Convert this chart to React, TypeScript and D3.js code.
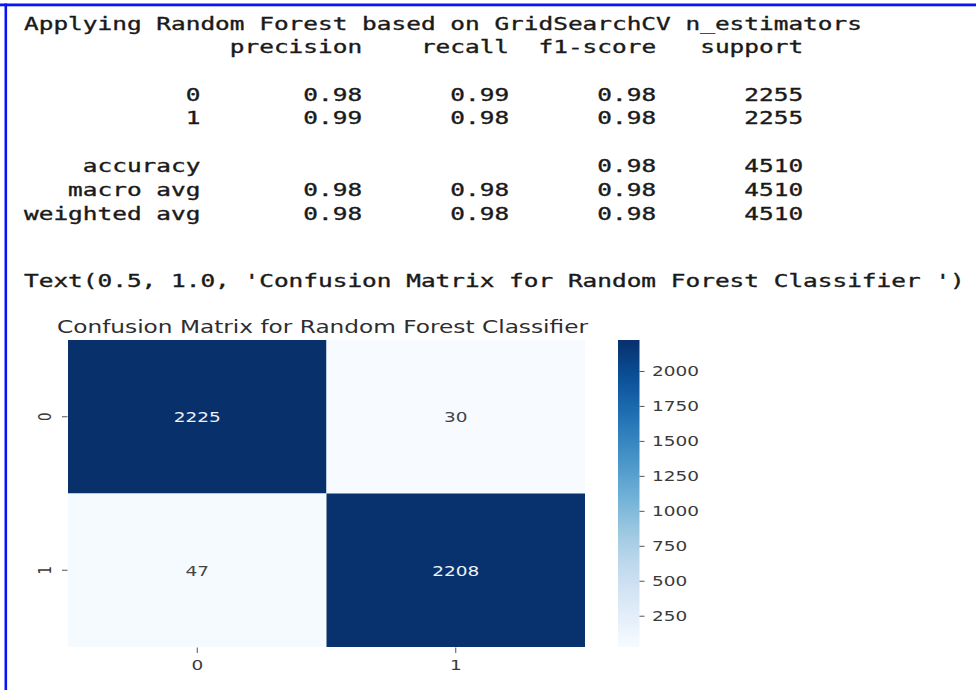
import React from "react";
import * as d3 from "d3";

// ---- data ----
const title = "Applying Random Forest based on GridSearchCV n_estimators";
const reportHeaders = ["precision", "recall", "f1-score", "support"];
const classLabels = ["0", "1"];
const precision = [0.98, 0.99];
const recall = [0.99, 0.98];
const f1Score = [0.98, 0.98];
const support = [2255, 2255];
const accuracy = 0.98;
const totalSupport = 4510;
const macroAvg = [0.98, 0.98, 0.98];
const weightedAvg = [0.98, 0.98, 0.98];
const textRepr = "Text(0.5, 1.0, 'Confusion Matrix for Random Forest Classifier ')";
const chartTitle = "Confusion Matrix for Random Forest Classifier";
const confusion = [
  [2225, 30],
  [47, 2208],
];
const colorbarTicks = [250, 500, 750, 1000, 1250, 1500, 1750, 2000];

// ---- report formatting (sklearn style) ----
const W = 12;
const f2 = (v: number) => v.toFixed(2);
const col = (s: string) => " " + s.padStart(9);
const reportLines: (string | null)[] = [
  " ".repeat(W) + " " + reportHeaders.map(col).join(""),
  null,
  ...classLabels.map(
    (c, i) =>
      c.padStart(W) + " " + [precision[i], recall[i], f1Score[i]].map((v) => col(f2(v))).join("") + col(String(support[i]))
  ),
  null,
  "accuracy".padStart(W) + " " + col("") + col("") + col(f2(accuracy)) + col(String(totalSupport)),
  "macro avg".padStart(W) + " " + macroAvg.map((v) => col(f2(v))).join("") + col(String(totalSupport)),
  "weighted avg".padStart(W) + " " + weightedAvg.map((v) => col(f2(v))).join("") + col(String(totalSupport)),
];

const CH = 14.7;
const X0 = 24;
const MONO = "'DejaVu Sans Mono', monospace";
const SANS = "'DejaVu Sans', sans-serif";
const SX = 1.38;

function MonoLine({ line, y }: { line: string; y: number }) {
  const toks: { t: string; i: number }[] = [];
  const re = /\S+/g;
  let m: RegExpExecArray | null;
  while ((m = re.exec(line))) toks.push({ t: m[0], i: m.index });
  return (
    <g>
      {toks.map((k, j) => (
        <text
          key={j}
          x={X0 + k.i * CH}
          y={y}
          fontFamily={MONO}
          fontSize={17.7}
          fill="#1a1a1a"
          stroke="#1a1a1a"
          strokeWidth={0.35}
          textLength={k.t.length * CH}
          lengthAdjust="spacingAndGlyphs"
        >
          {k.t}
        </text>
      ))}
    </g>
  );
}

function SText({
  x,
  y,
  children,
  anchor = "start",
  size = 13.4,
  fill = "#3a3a3a",
  rotate = 0,
  baseline,
}: any) {
  return (
    <text
      transform={`translate(${x},${y}) scale(${SX},1)${rotate ? ` rotate(${rotate})` : ""}`}
      textAnchor={anchor}
      fontFamily={SANS}
      fontSize={size}
      fill={fill}
      dominantBaseline={baseline}
    >
      {children}
    </text>
  );
}

export default function App() {
  const x = d3.scaleBand<string>().domain(classLabels).range([68, 585]);
  const y = d3.scaleBand<string>().domain(classLabels).range([340, 647]);
  const flat = confusion.flat();
  const vmin = d3.min(flat) as number;
  const vmax = d3.max(flat) as number;
  const color = d3.scaleSequential(d3.interpolateBlues).domain([vmin, vmax]);
  const cbY = d3.scaleLinear().domain([vmin, vmax]).range([647, 340]);
  const cbX0 = 618;
  const cbX1 = 639.5;
  const stops = d3.range(0, 1.0001, 0.05);

  const lineH = 23.8;
  const headerY = 53;

  return (
    <div style={{ position: "absolute", left: 0, top: 0 }}>
      <svg width={976} height={690} style={{ display: "block", background: "#fff" }}>
        <defs>
          <linearGradient id="cb" x1="0" y1="1" x2="0" y2="0">
            {stops.map((t) => (
              <stop key={t} offset={t} stopColor={d3.interpolateBlues(t)} />
            ))}
          </linearGradient>
        </defs>
        <rect x={0} y={0} width={976} height={690} fill="#fff" />
        {/* border */}
        <rect x={0} y={3.5} width={976} height={2.8} fill="#0a14f5" />
        <rect x={4.5} y={3.5} width={2.6} height={690} fill="#0a14f5" />

        {/* console text */}
        <MonoLine line={title} y={29.8} />
        {reportLines.map((l, i) => (l ? <MonoLine key={i} line={l} y={headerY + i * lineH} /> : null))}
        <MonoLine line={textRepr} y={286.8} />

        {/* heatmap title */}
        <text
          x={(57 + 588) / 2}
          y={333}
          textAnchor="middle"
          fontFamily={SANS}
          fontSize={16.8}
          fill="#2e2e2e"
          textLength={531}
          lengthAdjust="spacingAndGlyphs"
        >
          {chartTitle}
        </text>

        {/* cells */}
        {confusion.map((row, r) =>
          row.map((v, c) => (
            <g key={`${r}-${c}`}>
              <rect
                x={x(classLabels[c])}
                y={y(classLabels[r])}
                width={x.bandwidth()}
                height={y.bandwidth()}
                fill={color(v)}
              />
              <SText
                x={(x(classLabels[c]) as number) + x.bandwidth() / 2}
                y={(y(classLabels[r]) as number) + y.bandwidth() / 2 + 1}
                anchor="middle"
                baseline="central"
                fill={(v - vmin) / (vmax - vmin) > 0.5 ? "#eef2f8" : "#444"}
              >
                {String(v)}
              </SText>
            </g>
          ))
        )}

        {/* y ticks */}
        {classLabels.map((l) => {
          const cy = (y(l) as number) + y.bandwidth() / 2;
          return (
            <g key={"y" + l}>
              <line x1={62} x2={67.5} y1={cy} y2={cy} stroke="#555" strokeWidth={1} />
              <SText x={51} y={cy} anchor="middle" rotate={-90}>
                {l}
              </SText>
            </g>
          );
        })}
        {/* x ticks */}
        {classLabels.map((l) => {
          const cx = (x(l) as number) + x.bandwidth() / 2;
          return (
            <g key={"x" + l}>
              <line x1={cx} x2={cx} y1={647.5} y2={653} stroke="#555" strokeWidth={1} />
              <SText x={cx} y={670} anchor="middle">
                {l}
              </SText>
            </g>
          );
        })}

        {/* colorbar */}
        <rect x={cbX0} y={340} width={cbX1 - cbX0} height={307} fill="url(#cb)" />
        {colorbarTicks.map((t) => (
          <g key={"cb" + t}>
            <line x1={cbX1} x2={cbX1 + 5} y1={cbY(t)} y2={cbY(t)} stroke="#555" strokeWidth={1} />
            <SText x={652} y={cbY(t)} baseline="central">
              {String(t)}
            </SText>
          </g>
        ))}
      </svg>
    </div>
  );
}
